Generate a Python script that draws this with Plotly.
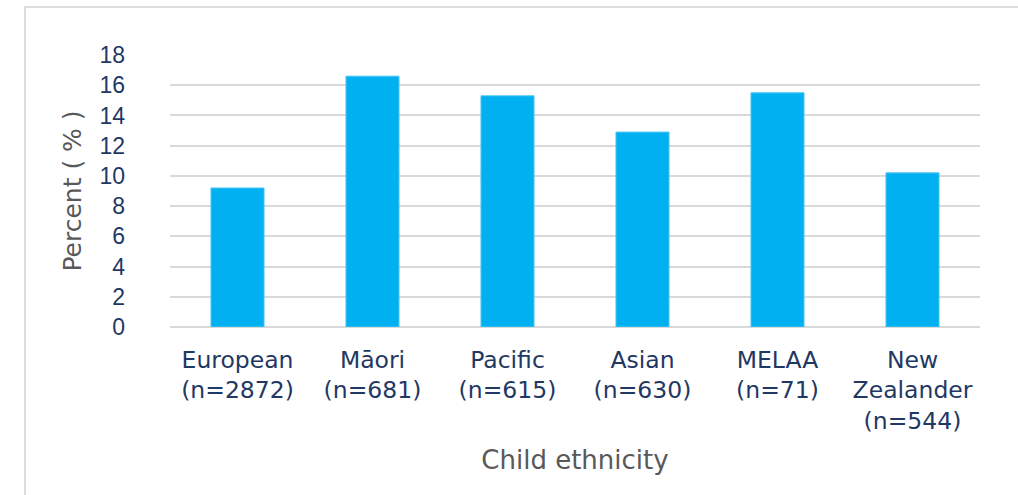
import plotly.graph_objects as go

# Share of children by ethnicity (percent), with group sizes
ethnicity = ["European", "Māori", "Pacific", "Asian", "MELAA", "New Zealander"]
group_n = [2872, 681, 615, 630, 71, 544]
percent = [9.2, 16.6, 15.3, 12.9, 15.5, 10.2]
y_ticks = [0, 2, 4, 6, 8, 10, 12, 14, 16, 18]

tick_text = []
for name, n in zip(ethnicity, group_n):
    label = name.replace(" ", "<br>")
    tick_text.append(f"{label}<br>(n={n})")

BAR_BLUE = "#00B0F0"
NAVY = "#1F3864"
GREY_TEXT = "#595959"
GRID = "#D9D9D9"

fig = go.Figure(
    go.Bar(
        x=ethnicity,
        y=percent,
        marker=dict(color=BAR_BLUE, line=dict(color="#4FC6F2", width=1)),
        hoverinfo="x+y",
    )
)

fig.update_layout(
    width=1018,
    height=495,
    margin=dict(l=170, r=38, t=55, b=168, autoexpand=False),
    paper_bgcolor="white",
    plot_bgcolor="white",
    bargap=0.607,
    showlegend=False,
    font=dict(family="DejaVu Sans", color=NAVY),
    shapes=[
        # light frame around the chart area (top and left edges)
        dict(
            type="path",
            xref="paper",
            yref="paper",
            path="M -0.179,-0.75 L -0.179,1.1765 L 1.1,1.1765",
            line=dict(color="#DCDCDC", width=2),
        )
    ],
)

fig.update_xaxes(
    tickmode="array",
    tickvals=ethnicity,
    ticktext=tick_text,
    tickfont=dict(family="DejaVu Sans", size=23.5, color=NAVY),
    ticklabelstandoff=16,
    showgrid=False,
    showline=False,
    ticks="",
    automargin=False,
    title=dict(
        text="Child ethnicity",
        font=dict(family="DejaVu Sans", size=26, color=GREY_TEXT),
        standoff=17,
    ),
)

fig.update_yaxes(
    range=[0, 18],
    tickmode="array",
    tickvals=y_ticks,
    tickfont=dict(family="Liberation Sans, Arial", size=23, color=NAVY),
    ticklabelstandoff=44,
    showgrid=True,
    gridcolor=GRID,
    gridwidth=2,
    zeroline=True,
    zerolinecolor=GRID,
    zerolinewidth=2,
    showline=False,
    ticks="",
    automargin=False,
    title=dict(
        text="Percent ( % )",
        font=dict(family="DejaVu Sans", size=25, color=GREY_TEXT),
        standoff=10,
    ),
)

fig.write_html("out.html")
